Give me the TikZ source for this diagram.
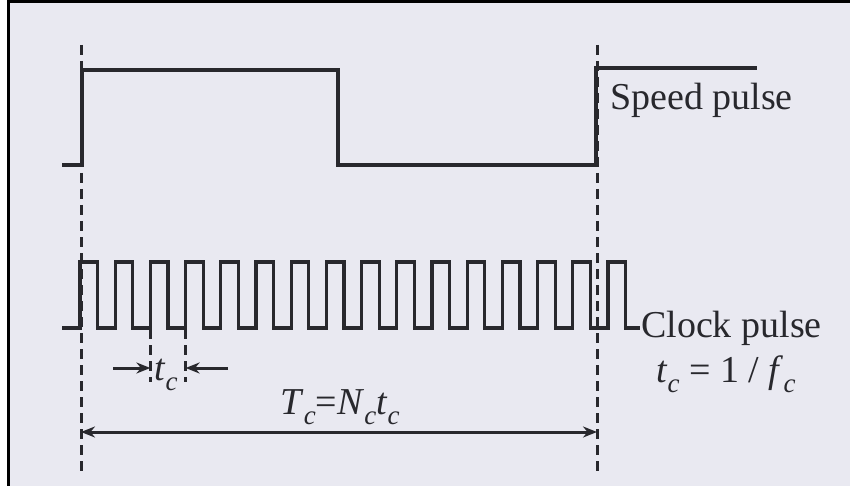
\documentclass[tikz,border=0pt]{standalone}
\usepackage{fontspec}
\setmainfont{Liberation Serif}
\usetikzlibrary{arrows.meta}
\definecolor{paper}{RGB}{233,233,241}
\definecolor{ink}{RGB}{40,40,45}
\newcommand\isub[2]{\textit{#1}\raisebox{-0.28em}{\fontsize{27}{28}\selectfont\textit{#2}}}
\begin{document}
\begin{tikzpicture}[x=1pt,y=-1pt,
  sig/.style={line width=3.2pt,ink,line join=miter},
  guide/.style={line width=3pt,ink,dash pattern=on 10pt off 6pt},
  dim/.style={line width=3pt,ink,{Stealth[length=14pt,width=11pt]}-{Stealth[length=14pt,width=11pt]}},
  dimr/.style={line width=3pt,ink,-{Stealth[length=14pt,width=11pt]}},
  lbl/.style={ink,inner sep=0pt,font=\fontsize{38}{40}\selectfont}]
\useasboundingbox (0,0) rectangle (850,486);
\fill[white] (0,0) rectangle (850,486);
\fill[paper] (10,3) rectangle (850,486);
\fill[black] (7,0) rectangle (850,3);
\fill[black] (7,0) rectangle (10,486);
% guide lines
\coordinate (gA1) at (81,45);  \coordinate (gA2) at (81,472);
\coordinate (gB1) at (597,45); \coordinate (gB2) at (597,472);
\draw[guide] (gA1) -- (gA2);
\draw[guide] (gB1) -- (gB2);
% speed pulse
\draw[sig] (62,165) -- (82,165) -- (82,70) -- (338,70) -- (338,165) -- (596,165) -- (596,68) -- (757,68);
\node[lbl,anchor=base west] (speed) at (610,110) {Speed pulse};
% clock pulse
\draw[sig] (62,328) -- (80,328)
  \foreach \k in {0,...,15} {
    -- ({80+35.2*\k},328) -- ({80+35.2*\k},262) -- ({97.6+35.2*\k},262) -- ({97.6+35.2*\k},328)
  } -- (640,328);
\node[lbl,anchor=base west] (clock) at (641,337) {Clock pulse};
\node[lbl,anchor=base] (tcdef) at (726,382) {\isub{t}{c} = 1 / \isub{f}{c}};
% t_c marker
\coordinate (m1a) at (150.4,313); \coordinate (m1b) at (150.4,382);
\coordinate (m2a) at (185.6,313); \coordinate (m2b) at (185.6,382);
\draw[guide] (m1a) -- (m1b);
\draw[guide] (m2a) -- (m2b);
\coordinate (la) at (113,368); \coordinate (lb) at (150.4,368);
\coordinate (ra) at (228,368); \coordinate (rb) at (185.6,368);
\draw[dimr] (la) -- (lb);
\draw[dimr] (ra) -- (rb);
\node[lbl,anchor=base] (tc) at (166,380) {\isub{t}{c}};
% T_c dimension
\coordinate (dL) at (81,432); \coordinate (dR) at (597,432);
\draw[dim] (dL) -- (dR);
\node[lbl,anchor=base] (Tc) at (340,414) {\isub{T}{c}=\isub{N}{c}\isub{t}{c}};
\end{tikzpicture}
\end{document}
